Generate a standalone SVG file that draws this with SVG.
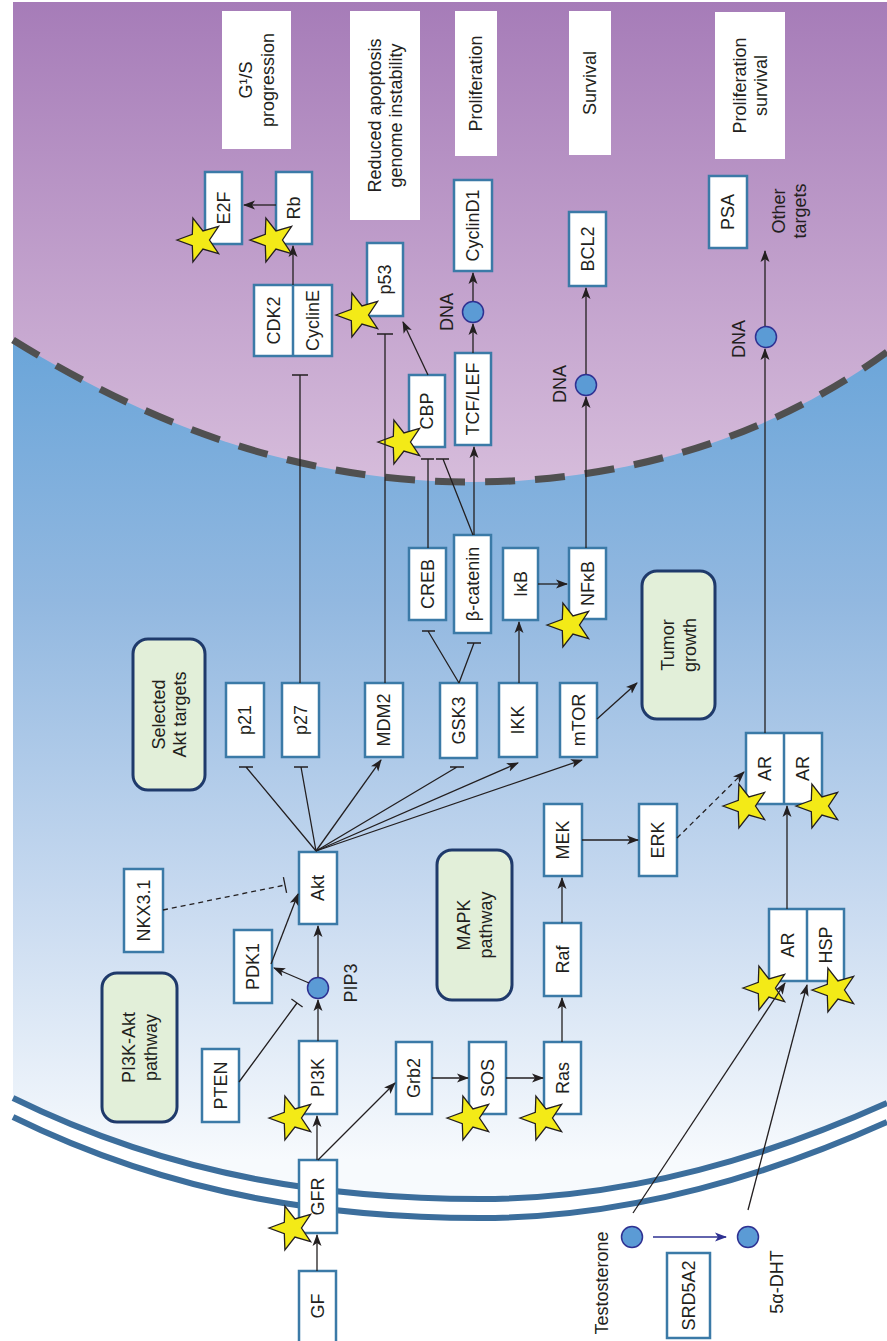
<svg xmlns="http://www.w3.org/2000/svg" width="887" height="1341" viewBox="0 0 887 1341">
<defs>
<linearGradient id="gBlue" gradientUnits="userSpaceOnUse" x1="0" y1="300" x2="0" y2="1160">
<stop offset="0" stop-color="#64a2d8"/><stop offset="0.35" stop-color="#92b8e0"/><stop offset="0.7" stop-color="#c8daf0"/><stop offset="1" stop-color="#f7fafd"/>
</linearGradient>
<linearGradient id="gPurple" gradientUnits="userSpaceOnUse" x1="0" y1="2" x2="0" y2="482">
<stop offset="0" stop-color="#a67cb8"/><stop offset="1" stop-color="#d6bcdb"/>
</linearGradient>
<marker id="ah" markerUnits="userSpaceOnUse" markerWidth="12" markerHeight="10" viewBox="0 0 12 10" refX="11" refY="5" orient="auto"><path d="M0,0.5 L12,5 L0,9.5 L3,5 Z" fill="#231f20"/></marker>
<marker id="ahN" markerUnits="userSpaceOnUse" markerWidth="12" markerHeight="10" viewBox="0 0 12 10" refX="11" refY="5" orient="auto"><path d="M0,0.5 L12,5 L0,9.5 L3,5 Z" fill="#2e3192"/></marker>
<path id="star" d="M-23,0 L-7.69,-5.59 L-7.11,-21.87 L2.94,-9.03 L18.61,-13.52 L9.5,0 L18.61,13.52 L2.94,9.03 L-7.11,21.87 L-7.69,5.59 Z"/>
</defs>
<style>
.box{fill:#fff;stroke:#3b7aa7;stroke-width:2.5}
.lbl{fill:#fff}
.green{fill:#e2efd9;stroke:#1f3a6b;stroke-width:3}
.t{font-family:"Liberation Sans",Arial,sans-serif;font-size:18px;fill:#231f20;text-anchor:middle}
.c{stroke:#231f20;stroke-width:1.3;fill:none}
.arr{marker-end:url(#ah)}
.dsh{stroke-dasharray:5 4}
.mol{fill:#5b9bd5;stroke:#2e3192;stroke-width:1.5}
.st{fill:#f3ea17;stroke:#231f20;stroke-width:1.3}
.div{stroke:#3b7aa7;stroke-width:2.5}
</style>
<rect x="0" y="0" width="887" height="1341" fill="#fff"/>
<g id="background">
<rect x="13" y="2" width="874" height="1339" fill="url(#gBlue)"/>
<path d="M13,2 L887,2 L887,352 C780,430 640,482 470,482 C300,482 150,425 13,340 Z" fill="url(#gPurple)"/>
<path d="M13,340 C150,425 300,482 470,482 C640,482 780,430 887,352" fill="none" stroke="#505050" stroke-width="7" stroke-dasharray="30 20"/>
<path d="M13,1098 C180,1180 340,1199 480,1199 C620,1199 760,1160 887,1103 L887,1341 L13,1341 Z" fill="#fff"/>
<path d="M13,1098 C180,1180 340,1199 480,1199 C620,1199 760,1160 887,1103" fill="none" stroke="#3c6e9c" stroke-width="6"/>
<path d="M13,1117 C180,1199 340,1218 480,1218 C620,1218 760,1179 887,1122" fill="none" stroke="#3c6e9c" stroke-width="6"/>
</g>
<g id="labels">
<g id="lbl-g1s"><rect class="lbl" x="222" y="11" width="69" height="138"/><text class="t" transform="translate(256.5,80) rotate(-90)"><tspan x="0" dy="-0.25em">G¹/S</tspan><tspan x="0" dy="1.2em">progression</tspan></text></g>
<g id="lbl-apoptosis"><rect class="lbl" x="350" y="11" width="70" height="209"/><text class="t" transform="translate(385,115.5) rotate(-90)"><tspan x="0" dy="-0.25em">Reduced apoptosis</tspan><tspan x="0" dy="1.2em">genome instability</tspan></text></g>
<g id="lbl-prolif"><rect class="lbl" x="455" y="11" width="42" height="145"/><text class="t" transform="translate(476,83.5) rotate(-90)" dy=".35em">Proliferation</text></g>
<g id="lbl-survival"><rect class="lbl" x="569" y="11" width="42" height="144"/><text class="t" transform="translate(590,83) rotate(-90)" dy=".35em">Survival</text></g>
<g id="lbl-prolsurv"><rect class="lbl" x="715" y="12" width="70" height="147"/><text class="t" transform="translate(750,85.5) rotate(-90)"><tspan x="0" dy="-0.25em">Proliferation</tspan><tspan x="0" dy="1.2em">survival</tspan></text></g>
</g>
<g id="nodes">
<g id="E2F"><rect class="box" x="205" y="172" width="37" height="72"/><use href="#star" class="st" x="200" y="240"/><text class="t" transform="translate(223.5,208) rotate(-90)" dy=".35em">E2F</text></g>
<g id="Rb"><rect class="box" x="276" y="172" width="36" height="72"/><use href="#star" class="st" x="273" y="240"/><text class="t" transform="translate(294,208) rotate(-90)" dy=".35em">Rb</text></g>
<g id="CDK2-CyclinE"><rect class="box" x="254" y="285" width="78" height="71"/><line class="div" x1="293" y1="285" x2="293" y2="356"/><text class="t" transform="translate(273.5,320.5) rotate(-90)" dy=".35em">CDK2</text><text class="t" transform="translate(312.5,320.5) rotate(-90)" dy=".35em">CyclinE</text></g>
<g id="p53"><rect class="box" x="367" y="243" width="36" height="73"/><use href="#star" class="st" x="359" y="315"/><text class="t" transform="translate(385,279.5) rotate(-90)" dy=".35em">p53</text></g>
<g id="CyclinD1"><rect class="box" x="454" y="180" width="38" height="91"/><text class="t" transform="translate(473,225.5) rotate(-90)" dy=".35em">CyclinD1</text></g>
<g id="BCL2"><rect class="box" x="569" y="212" width="37" height="74"/><text class="t" transform="translate(587.5,249) rotate(-90)" dy=".35em">BCL2</text></g>
<g id="PSA"><rect class="box" x="709" y="176" width="38" height="72"/><text class="t" transform="translate(728,212) rotate(-90)" dy=".35em">PSA</text></g>
<g id="other-targets"><text class="t" transform="translate(789,211) rotate(-90)"><tspan x="0" dy="-0.25em">Other</tspan><tspan x="0" dy="1.2em">targets</tspan></text></g>
<g id="CBP"><rect class="box" x="409" y="375" width="36" height="72"/><use href="#star" class="st" x="401" y="442"/><text class="t" transform="translate(427,411) rotate(-90)" dy=".35em">CBP</text></g>
<g id="TCF-LEF"><rect class="box" x="455" y="353" width="36" height="92"/><text class="t" transform="translate(473,399) rotate(-90)" dy=".35em">TCF/LEF</text></g>
<g id="DNA1"><circle class="mol" cx="473" cy="312" r="10.5"/><text class="t" transform="translate(447,312) rotate(-90)" dy=".35em">DNA</text></g>
<g id="DNA2"><circle class="mol" cx="586" cy="385" r="10.5"/><text class="t" transform="translate(560,384) rotate(-90)" dy=".35em">DNA</text></g>
<g id="DNA3"><circle class="mol" cx="766" cy="337" r="10.5"/><text class="t" transform="translate(738.5,339) rotate(-90)" dy=".35em">DNA</text></g>
<g id="CREB"><rect class="box" x="409" y="548" width="37" height="72"/><text class="t" transform="translate(427.5,584) rotate(-90)" dy=".35em">CREB</text></g>
<g id="beta-catenin"><rect class="box" x="454" y="535" width="37" height="98"/><text class="t" transform="translate(472.5,584) rotate(-90)" dy=".35em">β-catenin</text></g>
<g id="IkB"><rect class="box" x="503" y="548" width="35" height="72"/><text class="t" transform="translate(520.5,584) rotate(-90)" dy=".35em">IκB</text></g>
<g id="NFkB"><rect class="box" x="569" y="548" width="37" height="71"/><use href="#star" class="st" x="570" y="625"/><text class="t" transform="translate(587.5,583.5) rotate(-90)" dy=".35em">NFκB</text></g>
<g id="selected-akt"><rect class="green" x="133" y="639" width="72" height="151" rx="15"/><text class="t" transform="translate(169,714.5) rotate(-90)"><tspan x="0" dy="-0.25em">Selected</tspan><tspan x="0" dy="1.2em">Akt targets</tspan></text></g>
<g id="tumor-growth"><rect class="green" x="642" y="571" width="73" height="148" rx="15"/><text class="t" transform="translate(678.5,645) rotate(-90)"><tspan x="0" dy="-0.25em">Tumor</tspan><tspan x="0" dy="1.2em">growth</tspan></text></g>
<g id="p21"><rect class="box" x="226" y="683" width="38" height="74"/><text class="t" transform="translate(245,720) rotate(-90)" dy=".35em">p21</text></g>
<g id="p27"><rect class="box" x="282" y="683" width="37" height="74"/><text class="t" transform="translate(300.5,720) rotate(-90)" dy=".35em">p27</text></g>
<g id="MDM2"><rect class="box" x="365" y="683" width="38" height="74"/><text class="t" transform="translate(384,720) rotate(-90)" dy=".35em">MDM2</text></g>
<g id="GSK3"><rect class="box" x="440" y="683" width="37" height="75"/><text class="t" transform="translate(458.5,720.5) rotate(-90)" dy=".35em">GSK3</text></g>
<g id="IKK"><rect class="box" x="499" y="683" width="38" height="74"/><text class="t" transform="translate(518,720) rotate(-90)" dy=".35em">IKK</text></g>
<g id="mTOR"><rect class="box" x="560" y="683" width="37" height="74"/><text class="t" transform="translate(578.5,720) rotate(-90)" dy=".35em">mTOR</text></g>
<g id="AR-AR"><rect class="box" x="746" y="733" width="76" height="71"/><line class="div" x1="784" y1="733" x2="784" y2="804"/><use href="#star" class="st" x="746" y="806"/><use href="#star" class="st" x="819" y="806"/><text class="t" transform="translate(765,768.5) rotate(-90)" dy=".35em">AR</text><text class="t" transform="translate(803,768.5) rotate(-90)" dy=".35em">AR</text></g>
<g id="MEK"><rect class="box" x="544" y="804" width="38" height="72"/><text class="t" transform="translate(563,840) rotate(-90)" dy=".35em">MEK</text></g>
<g id="ERK"><rect class="box" x="639" y="804" width="38" height="72"/><text class="t" transform="translate(658,840) rotate(-90)" dy=".35em">ERK</text></g>
<g id="Akt"><rect class="box" x="299" y="852" width="38" height="72"/><text class="t" transform="translate(318,888) rotate(-90)" dy=".35em">Akt</text></g>
<g id="NKX3.1"><rect class="box" x="124" y="869" width="39" height="83"/><text class="t" transform="translate(143.5,910.5) rotate(-90)" dy=".35em">NKX3.1</text></g>
<g id="MAPK"><rect class="green" x="437" y="850" width="75" height="150" rx="15"/><text class="t" transform="translate(474.5,925) rotate(-90)"><tspan x="0" dy="-0.25em">MAPK</tspan><tspan x="0" dy="1.2em">pathway</tspan></text></g>
<g id="PDK1"><rect class="box" x="234" y="930" width="38" height="73"/><text class="t" transform="translate(253,966.5) rotate(-90)" dy=".35em">PDK1</text></g>
<g id="PIP3"><circle class="mol" cx="318" cy="988" r="10.5"/><text class="t" transform="translate(351,983) rotate(-90)" dy=".35em">PIP3</text></g>
<g id="Raf"><rect class="box" x="544" y="923" width="37" height="73"/><text class="t" transform="translate(562.5,959.5) rotate(-90)" dy=".35em">Raf</text></g>
<g id="AR-HSP"><rect class="box" x="769" y="909" width="75" height="72"/><line class="div" x1="807" y1="909" x2="807" y2="981"/><use href="#star" class="st" x="766" y="988"/><use href="#star" class="st" x="835" y="990"/><text class="t" transform="translate(788,945) rotate(-90)" dy=".35em">AR</text><text class="t" transform="translate(825.5,945) rotate(-90)" dy=".35em">HSP</text></g>
<g id="PI3K-Akt"><rect class="green" x="102" y="973" width="75" height="149" rx="15"/><text class="t" transform="translate(139.5,1047.5) rotate(-90)"><tspan x="0" dy="-0.25em">PI3K-Akt</tspan><tspan x="0" dy="1.2em">pathway</tspan></text></g>
<g id="PTEN"><rect class="box" x="202" y="1049" width="37" height="73"/><text class="t" transform="translate(220.5,1085.5) rotate(-90)" dy=".35em">PTEN</text></g>
<g id="PI3K"><rect class="box" x="299" y="1041" width="38" height="73"/><use href="#star" class="st" x="292" y="1118"/><text class="t" transform="translate(318,1077.5) rotate(-90)" dy=".35em">PI3K</text></g>
<g id="Grb2"><rect class="box" x="396" y="1042" width="36" height="72"/><text class="t" transform="translate(414,1078) rotate(-90)" dy=".35em">Grb2</text></g>
<g id="SOS"><rect class="box" x="469" y="1042" width="37" height="72"/><use href="#star" class="st" x="470" y="1118"/><text class="t" transform="translate(487.5,1078) rotate(-90)" dy=".35em">SOS</text></g>
<g id="Ras"><rect class="box" x="544" y="1042" width="37" height="72"/><use href="#star" class="st" x="543" y="1118"/><text class="t" transform="translate(562.5,1078) rotate(-90)" dy=".35em">Ras</text></g>
<g id="GFR"><rect class="box" x="299" y="1160" width="38" height="73"/><use href="#star" class="st" x="292" y="1228"/><text class="t" transform="translate(318,1196.5) rotate(-90)" dy=".35em">GFR</text></g>
<g id="GF"><rect class="box" x="299" y="1271" width="37" height="75"/><text class="t" transform="translate(317.5,1306) rotate(-90)" dy=".35em">GF</text></g>
<g id="Testosterone"><circle class="mol" cx="632" cy="1237" r="10.5"/><text class="t" transform="translate(601.5,1283) rotate(-90)" dy=".35em">Testosterone</text></g>
<g id="DHT"><circle class="mol" cx="748" cy="1237" r="10.5"/><text class="t" transform="translate(777,1282) rotate(-90)" dy=".35em">5α-DHT</text></g>
<g id="SRD5A2"><rect class="box" x="667" y="1253" width="43" height="85"/><text class="t" transform="translate(688.5,1295.5) rotate(-90)" dy=".35em">SRD5A2</text></g>
</g>
<g id="connectors">
<path class="c arr" d="M276,205 H244"/>
<path class="c arr" d="M293,285 V246"/>
<path class="c" d="M300,683 V375 M292,375 H308"/>
<path class="c" d="M385,683 V334 M377,334 H393"/>
<path class="c arr" d="M428,375 L403,322"/>
<path class="c" d="M428,548 V459 M421,459 H434"/>
<path class="c" d="M473,535 L443,459 M436,459 H449"/>
<path class="c arr" d="M474,535 V447"/>
<path class="c arr" d="M473,353 V324"/>
<path class="c arr" d="M473,301 V273"/>
<path class="c arr" d="M519,683 V622"/>
<path class="c arr" d="M538,584 H567"/>
<path class="c arr" d="M586,548 V397"/>
<path class="c arr" d="M586,374 V288"/>
<path class="c" d="M459,683 L428,631 M422,631 H435"/>
<path class="c" d="M459,683 L474,643 M467,643 H481"/>
<path class="c arr" d="M597,719 L637,683"/>
<path class="c" d="M316,851 L246,767 M239,767 H253"/>
<path class="c" d="M316,851 L301,767 M294,767 H308"/>
<path class="c arr" d="M316,851 L381,760"/>
<path class="c" d="M316,851 L457,767 M450,767 H464"/>
<path class="c arr" d="M316,851 L518,763"/>
<path class="c arr" d="M316,851 L582,760"/>
<path class="c dsh" d="M163,910 L285,885"/>
<path class="c" d="M283.4,877.2 L286.6,892.8"/>
<path class="c arr" d="M271,964 L298,894"/>
<path class="c arr" d="M309,983 L274,968"/>
<path class="c arr" d="M318,977 V926"/>
<path class="c arr" d="M318,1041 V1000"/>
<path class="c" d="M239,1082 L297,1003 M291.4,998.9 L302.6,1007.1"/>
<path class="c arr" d="M317,1160 V1116"/>
<path class="c arr" d="M318,1160 L395,1083"/>
<path class="c arr" d="M317,1271 V1235"/>
<path class="c arr" d="M432,1078 H468"/>
<path class="c arr" d="M506,1078 H543"/>
<path class="c arr" d="M562,1042 V998"/>
<path class="c arr" d="M562,923 V878"/>
<path class="c arr" d="M582,840 H638"/>
<path class="c arr dsh" d="M677,838 L744,772"/>
<path class="c arr" d="M765,733 V349"/>
<path class="c arr" d="M765,326 V251"/>
<path class="c arr" d="M787,909 V806"/>
<path class="c arr" d="M633,1213 L785,983"/>
<path class="c arr" d="M748,1210 L807,985"/>
<path d="M653,1237 H726" fill="none" stroke="#2e3192" stroke-width="1.5" marker-end="url(#ahN)"/>
</g>
</svg>
